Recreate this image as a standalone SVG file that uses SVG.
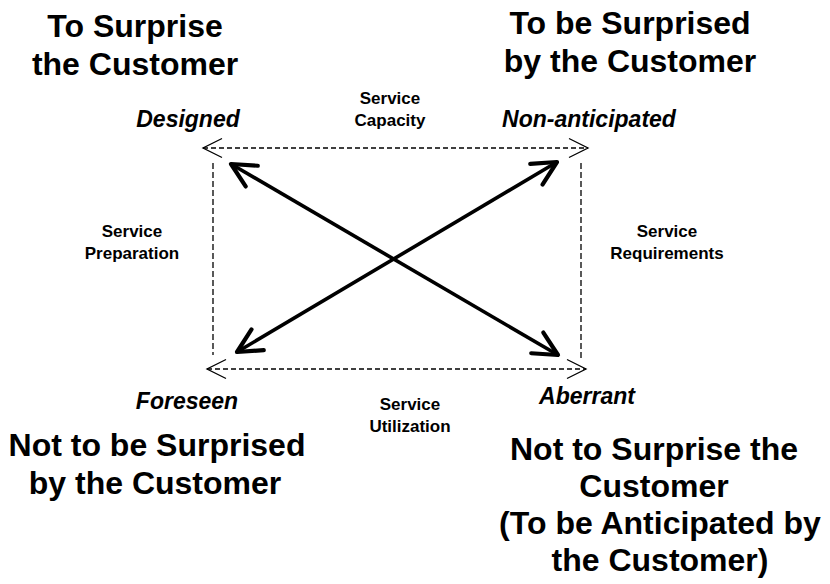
<svg xmlns="http://www.w3.org/2000/svg" width="830" height="584" viewBox="0 0 830 584">
  <style>
    .head { font-family: "Liberation Sans", Arial, sans-serif; font-weight: bold; font-size: 32px; fill: #000; text-anchor: middle; }
    .corner { font-family: "Liberation Sans", Arial, sans-serif; font-weight: bold; font-style: italic; font-size: 23px; fill: #000; text-anchor: middle; }
    .label { font-family: "Liberation Sans", Arial, sans-serif; font-weight: bold; font-size: 17px; fill: #000; text-anchor: middle; }
    .dash { fill: none; stroke: #000; stroke-width: 1.3; stroke-dasharray: 5 3; }
    .solid { fill: none; stroke: #000; stroke-width: 3.6; }
  </style>
  <defs>
    <marker id="openThin" markerUnits="userSpaceOnUse" orient="auto-start-reverse" refX="0" refY="0" markerWidth="30" markerHeight="30" viewBox="-25 -15 30 30" overflow="visible">
      <path d="M-19,-9.5 L0,0 L-19,9.5" fill="none" stroke="#000" stroke-width="1.3"/>
    </marker>
    <marker id="openBold" markerUnits="userSpaceOnUse" orient="auto-start-reverse" refX="0" refY="0" markerWidth="40" markerHeight="40" viewBox="-30 -20 40 40" overflow="visible">
      <path d="M-24,-12 L0,0 L-24,12" fill="none" stroke="#000" stroke-width="4.2" stroke-linecap="round" stroke-linejoin="round"/>
    </marker>
  </defs>

  <!-- quadrant headings -->
  <g id="top-left">
    <text class="head" x="135" y="37">To Surprise</text>
    <text class="head" x="135" y="75">the Customer</text>
  </g>
  <g id="top-right">
    <text class="head" x="630" y="34">To be Surprised</text>
    <text class="head" x="630" y="72">by the Customer</text>
  </g>
  <g id="bottom-left">
    <text class="head" x="157" y="456">Not to be Surprised</text>
    <text class="head" x="155" y="494">by the Customer</text>
  </g>
  <g id="bottom-right">
    <text class="head" x="654" y="460">Not to Surprise the</text>
    <text class="head" x="654" y="497">Customer</text>
    <text class="head" x="660" y="534">(To be Anticipated by</text>
    <text class="head" x="660" y="571">the Customer)</text>
  </g>

  <!-- corner names -->
  <g id="designed"><text class="corner" x="188" y="127">Designed</text></g>
  <g id="non-anticipated"><text class="corner" x="589" y="127">Non-anticipated</text></g>
  <g id="foreseen"><text class="corner" x="187" y="409">Foreseen</text></g>
  <g id="aberrant"><text class="corner" x="587" y="404">Aberrant</text></g>

  <!-- side labels -->
  <g id="service-capacity">
    <text class="label" x="390" y="104">Service</text>
    <text class="label" x="390" y="126">Capacity</text>
  </g>
  <g id="service-preparation">
    <text class="label" x="132" y="237">Service</text>
    <text class="label" x="132" y="259">Preparation</text>
  </g>
  <g id="service-requirements">
    <text class="label" x="667" y="237">Service</text>
    <text class="label" x="667" y="259">Requirements</text>
  </g>
  <g id="service-utilization">
    <text class="label" x="410" y="410">Service</text>
    <text class="label" x="410" y="432">Utilization</text>
  </g>

  <!-- connectors -->
  <g id="connectors">
    <line class="dash" x1="203" y1="148" x2="588" y2="148" marker-start="url(#openThin)" marker-end="url(#openThin)"/>
    <line class="dash" x1="207" y1="369" x2="586" y2="369" marker-start="url(#openThin)" marker-end="url(#openThin)"/>
    <line class="dash" x1="213" y1="163" x2="213" y2="355" style="stroke-dasharray:6 3"/>
    <line class="dash" x1="581" y1="163" x2="581" y2="358" style="stroke-dasharray:6 3"/>
    <line class="solid" x1="231" y1="164" x2="558" y2="355" marker-start="url(#openBold)" marker-end="url(#openBold)"/>
    <line class="solid" x1="557" y1="162" x2="237" y2="352" marker-start="url(#openBold)" marker-end="url(#openBold)"/>
  </g>
</svg>
